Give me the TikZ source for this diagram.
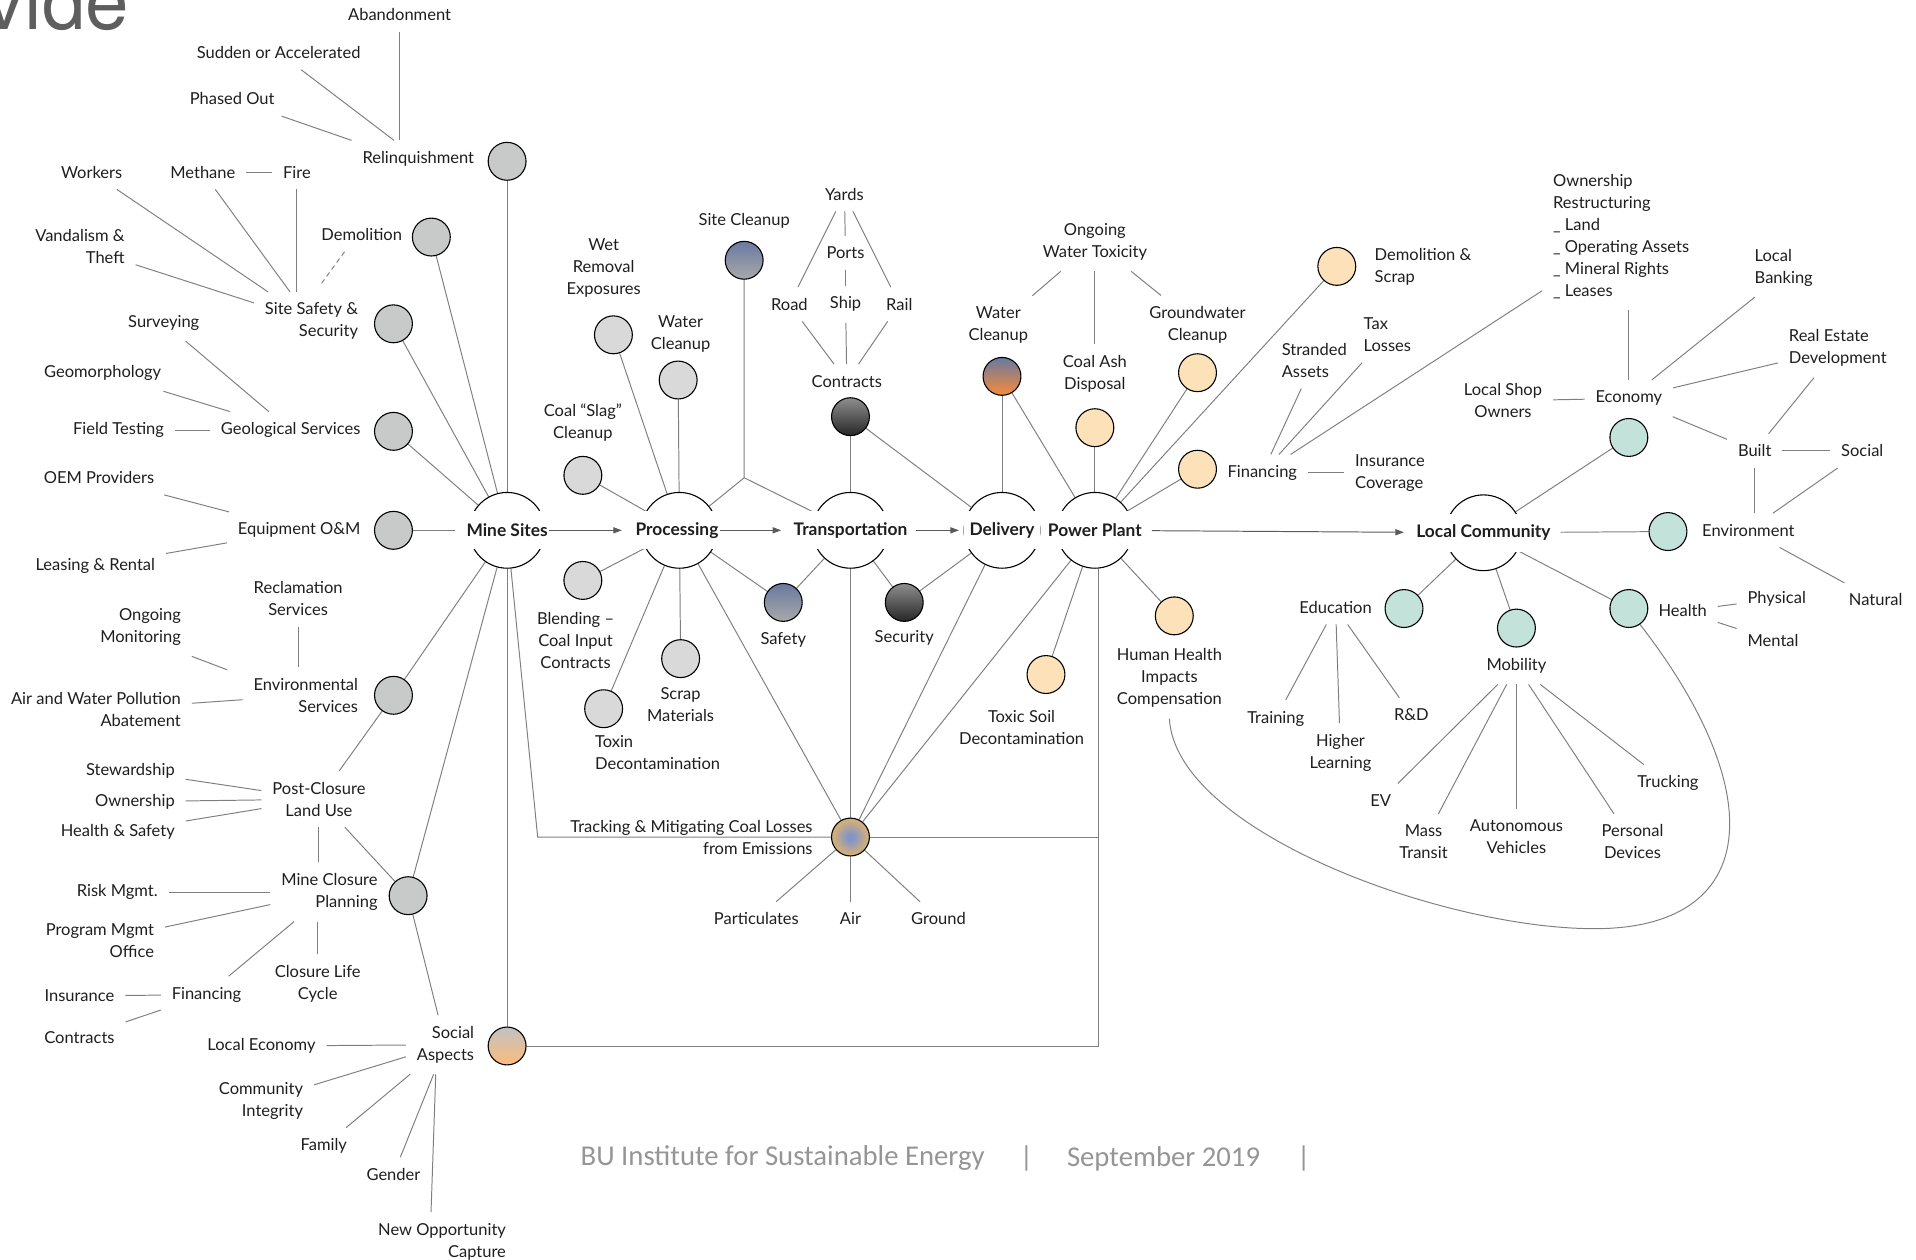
\documentclass[tikz,border=0pt]{standalone}
\usepackage{fontspec}
\setmainfont{Lato}
\newfontfamily\footfont{Carlito}
\newfontfamily\titlefont{TeX Gyre Heros}
\usetikzlibrary{shapes.geometric,arrows.meta}
\pgfdeclarelayer{background}
\pgfsetlayers{background,main}

\definecolor{linkgray}{HTML}{7F7F7F}
\definecolor{flowgray}{HTML}{5A5A5A}
\definecolor{labelblack}{HTML}{1E1E1E}
\definecolor{minefill}{HTML}{C8C9C9}
\definecolor{procfill}{HTML}{D9D9D9}
\definecolor{plantfill}{HTML}{FDE1B8}
\definecolor{commfill}{HTML}{C3E2DA}
\definecolor{siteblue}{HTML}{6979A0}
\definecolor{ashgray}{HTML}{A9A9A9}
\definecolor{coaltop}{HTML}{8E8E8E}
\definecolor{coalbottom}{HTML}{262626}
\definecolor{flameorange}{HTML}{F78B3A}
\definecolor{socialtop}{HTML}{C2C2C2}
\definecolor{socialbottom}{HTML}{FBBB7C}
\definecolor{tracktan}{HTML}{D0AE7C}
\definecolor{trackblue}{HTML}{8494C6}
\definecolor{footgray}{HTML}{959595}
\definecolor{titlegray}{HTML}{5E5E5E}

\pgfdeclareradialshading{trackspot}{\pgfpoint{0bp}{0bp}}{%
  color(0bp)=(trackblue); color(4bp)=(trackblue);
  color(22bp)=(tracktan); color(50bp)=(tracktan)}

\begin{document}
\begin{tikzpicture}[x=1pt, y=-1pt,
    every node/.style={text=labelblack, font=\fontsize{13.5}{18}\selectfont},
    lbl/.style={inner sep=1pt, outer sep=8pt, align=center},
    lblr/.style={lbl, align=right, anchor=east, xshift=9pt},
    lbll/.style={lbl, align=left, anchor=west, xshift=-9pt},
    stage/.style={circle, draw=black, line width=0.9pt, minimum size=62pt, inner sep=0pt},
    stagename/.style={fill=white, font=\fontsize{14.2}{18}\selectfont\bfseries,
        minimum width=62pt, minimum height=31pt, inner xsep=1pt, inner ysep=0pt},
    bubble/.style={circle, draw=black, line width=0.9pt, minimum size=31pt, inner sep=0pt},
    minedot/.style={bubble, fill=minefill},
    procdot/.style={bubble, fill=procfill},
    plantdot/.style={bubble, fill=plantfill},
    commdot/.style={bubble, fill=commfill},
    link/.style={draw=linkgray, line width=0.8pt},
    flow/.style={draw=flowgray, line width=0.8pt, -{Triangle[length=7pt,width=5pt]}}]
\useasboundingbox (0,0) rectangle (1568,1031);
\clip (0,0) rectangle (1568,1031);

% title fragment and footer
\node[anchor=base east, inner sep=0pt, text=titlegray,
    font=\titlefont\fontsize{64}{64}\selectfont] (title) at (106,24.5) {vide};
\node[anchor=west, inner sep=0pt, text=footgray,
    font=\footfont\fontsize{23.5}{28}\selectfont] (footorg) at (475,948) {BU Institute for Sustainable Energy};
\node[inner sep=0pt, text=footgray, font=\footfont\fontsize{23.5}{28}\selectfont] (footbara) at (840,948) {|};
\node[anchor=west, inner sep=0pt, text=footgray,
    font=\footfont\fontsize{23.5}{28}\selectfont] (footdate) at (873,948) {September 2019};
\node[inner sep=0pt, text=footgray, font=\footfont\fontsize{23.5}{28}\selectfont] (footbarb) at (1067,948) {|};

% value chain stages
\node[stage] (mine) at (415,434) {};
\node[stage] (proc) at (556,434) {};
\node[stage] (trans) at (696,434) {};
\node[stage] (deliv) at (820,434) {};
\node[stage] (plant) at (896,434) {};
\node[stage] (comm) at (1214,436) {};

% mine sites
\node[minedot] (relq) at (415,132) {};
\node[minedot] (demo) at (353,194) {};
\node[minedot] (safe) at (322,265) {};
\node[minedot] (geo) at (322,353) {};
\node[minedot] (equip) at (322,434) {};
\node[minedot] (env) at (322,569) {};
\node[minedot] (closure) at (334,733) {};
\node[bubble, top color=socialtop, bottom color=socialbottom] (social) at (415,856) {};

% processing
\node[procdot] (slag) at (477,389) {};
\node[procdot] (wet) at (502,274) {};
\node[procdot] (pwater) at (555,311) {};
\node[bubble, top color=siteblue, bottom color=ashgray] (sitecl) at (609,213) {};
\node[procdot] (blend) at (477,475) {};
\node[procdot] (toxin) at (494,580) {};
\node[procdot] (scrap) at (557,539) {};
\node[bubble, top color=siteblue, bottom color=ashgray] (safety) at (641,493) {};

% transportation and delivery
\node[bubble, top color=coaltop, bottom color=coalbottom] (contr) at (696,341) {};
\node[bubble, top color=coaltop, bottom color=coalbottom] (secur) at (740,493) {};
\node[bubble, top color=siteblue, bottom color=flameorange] (dwater) at (820,308) {};
\node[bubble, shading=trackspot] (track) at (696,685) {};

% power plant
\node[plantdot] (ash) at (896,350) {};
\node[plantdot] (ground) at (980,305) {};
\node[plantdot] (demscrap) at (1094,218) {};
\node[plantdot] (pfin) at (980,384) {};
\node[plantdot] (soil) at (856,552) {};
\node[plantdot] (human) at (961,504) {};

% local community
\node[commdot] (econ) at (1333,358) {};
\node[commdot] (environ) at (1365,435) {};
\node[commdot] (edu) at (1149,498) {};
\node[commdot] (mobil) at (1241,514) {};
\node[commdot] (health) at (1333,498) {};

% mine sites labels
\node[lbl] (abandon) at (327,12) {Abandonment};
\node[lbl] (sudden) at (228,43) {Sudden or Accelerated};
\node[lbl] (phased) at (190,81) {Phased Out};
\node[lblr] (relqt) at (388,130) {Relinquishment};
\node[lbl] (workers) at (75,141) {Workers};
\node[lbl] (methane) at (166,141) {Methane};
\node[lbl] (fire) at (243,141) {Fire};
\node[lblr] (vandal) at (102,202) {Vandalism \&\\Theft};
\node[lblr] (demot) at (329,192) {Demolition};
\node[lblr] (sitesec) at (293,263) {Site Safety \&\\Security};
\node[lbl] (survey) at (134,264) {Surveying};
\node[lbl] (geomorph) at (84,305) {Geomorphology};
\node[lbl] (fieldtest) at (97,352) {Field Testing};
\node[lblr] (geot) at (295,352) {Geological Services};
\node[lbl] (oem) at (81,391) {OEM Providers};
\node[lblr] (equipt) at (295,434) {Equipment O\&M};
\node[lbl] (leasing) at (78,463) {Leasing \& Rental};
\node[lbl] (reclaim) at (244,490) {Reclamation\\Services};
\node[lblr] (monitor) at (148,513) {Ongoing\\Monitoring};
\node[lblr] (envt) at (293,569) {Environmental\\Services};
\node[lblr] (abate) at (148,581) {Air and Water Pollution\\Abatement};
\node[lblr] (steward) at (143,631) {Stewardship};
\node[lblr] (ownship) at (143,656) {Ownership};
\node[lblr] (hsafety) at (143,681) {Health \& Safety};
\node[lbl] (postuse) at (261,654) {Post-Closure\\Land Use};
\node[lblr] (closuret) at (309,730) {Mine Closure\\Planning};
\node[lblr] (riskm) at (129,730) {Risk Mgmt.};
\node[lblr] (pmo) at (126,770) {Program Mgmt\\Office};
\node[lbl] (lifecyc) at (260,805) {Closure Life\\Cycle};
\node[lbl] (mfin) at (169,814) {Financing};
\node[lbl] (minsur) at (65,815) {Insurance};
\node[lbl] (mcontr) at (65,849) {Contracts};
\node[lblr] (socialt) at (388,855) {Social\\Aspects};
\node[lbl] (loceco) at (214,856) {Local Economy};
\node[lblr] (integ) at (248,901) {Community\\Integrity};
\node[lbl] (family) at (265,938) {Family};
\node[lbl] (gender) at (322,961) {Gender};
\node[lblr] (newopp) at (414,1016) {New Opportunity\\Capture};

% processing labels
\node[lbl] (slagt) at (477,346) {Coal “Slag”\\Cleanup};
\node[lbl] (wett) at (494,219) {Wet\\Removal\\Exposures};
\node[lbl] (pwatert) at (557,273) {Water\\Cleanup};
\node[lbl] (sitect) at (609,181) {Site Cleanup};
\node[lbl] (blendt) at (471,524) {Blending --\\Coal Input\\Contracts};
\node[lbll] (toxint) at (487,616) {Toxin\\Decontamination};
\node[lbl] (scrapt) at (557,577) {Scrap\\Materials};
\node[lbl] (safetyt) at (641,524) {Safety};

% transportation labels
\node[lbl] (yards) at (691,159) {Yards};
\node[lbl] (ports) at (692,207) {Ports};
\node[lbl] (road) at (646,249) {Road};
\node[lbl] (ship) at (692,249) {Ship};
\node[lbl] (rail) at (736,249) {Rail};
\node[lbl] (contrt) at (693,312) {Contracts};
\node[lbl] (secut) at (740,522) {Security};
\node[lblr] (trackt) at (665,685) {Tracking \& Mitigating Coal Losses\\from Emissions};
\node[lbl] (partic) at (619,752) {Particulates};
\node[lbl] (air) at (696,752) {Air};
\node[lbl] (groundl) at (768,752) {Ground};

% delivery and power plant labels
\node[lbl] (dwatert) at (817,266) {Water\\Cleanup};
\node[lbl] (toxicity) at (896,198) {Ongoing\\Water Toxicity};
\node[lbl] (asht) at (896,306) {Coal Ash\\Disposal};
\node[lbl] (groundt) at (980,266) {Groundwater\\Cleanup};
\node[lbll] (demscrapt) at (1125,218) {Demolition \&\\Scrap};
\node[lbl] (pfint) at (1033,387) {Financing};
\node[lbll] (stranded) at (1049,295) {Stranded\\Assets};
\node[lbll] (taxloss) at (1116,274) {Tax\\Losses};
\node[lbll] (coverage) at (1109,387) {Insurance\\Coverage};
\node[lbll] (restruct) at (1271,194) {Ownership\\Restructuring\\\_ Land\\\_ Operating Assets\\\_ Mineral Rights\\\_ Leases};
\node[lbl] (soilt) at (836,595) {Toxic Soil\\Decontamination};
\node[lbl] (humant) at (957,555) {Human Health\\Impacts\\Compensation};

% local community labels
\node[lbl] (econt) at (1333,326) {Economy};
\node[lbl] (shop) at (1230,328) {Local Shop\\Owners};
\node[lbll] (banking) at (1436,219) {Local\\Banking};
\node[lbll] (realest) at (1464,285) {Real Estate\\Development};
\node[lbl] (built) at (1436,369) {Built};
\node[lbl] (socialc) at (1524,369) {Social};
\node[lbll] (environt) at (1393,434) {Environment};
\node[lbl] (natural) at (1535,491) {Natural};
\node[lbl] (edut) at (1093,497) {Education};
\node[lbl] (training) at (1044,588) {Training};
\node[lbl] (higher) at (1097,616) {Higher\\Learning};
\node[lbl] (rnd) at (1155,585) {R\&D};
\node[lbl] (mobilt) at (1241,545) {Mobility};
\node[lbl] (ev) at (1130,655) {EV};
\node[lbl] (transit) at (1165,689) {Mass\\Transit};
\node[lbl] (autov) at (1241,685) {Autonomous\\Vehicles};
\node[lbl] (devices) at (1336,689) {Personal\\Devices};
\node[lbl] (trucking) at (1365,641) {Trucking};
\node[lbl] (healtht) at (1377,500) {Health};
\node[lbl] (physical) at (1454,490) {Physical};
\node[lbl] (mental) at (1451,524) {Mental};

% stage names (white band cuts the circles)
\node[stagename] (minet) at (415,434) {Mine Sites};
\node[stagename] (proct) at (554,434) {Processing};
\node[stagename] (transt) at (696,434) {Transportation};
\node[stagename] (delivt) at (820,434) {Delivery};
\node[stagename] (plantt) at (896,434) {Power Plant};
\node[stagename] (commt) at (1214,436) {Local Community};

\begin{pgfonlayer}{background}
% main flow
\draw[flow, shorten >=10pt] (minet) -- (proct);
\draw[flow, shorten >=9pt] (proct) -- (transt);
\draw[flow, shorten <=6pt, shorten >=4pt] (transt) -- (delivt);
\draw[flow, shorten <=7pt, shorten >=9pt] (plantt) -- (commt);

% mine sites
\draw[link] (abandon.south) -- (abandon.south |- relqt.north);
\draw[link] (sudden) -- (relqt);
\draw[link] (phased) -- (relqt.north west);
\draw[link] (workers) -- (sitesec);
\draw[link] (methane) -- (sitesec);
\draw[link] (methane) -- (fire);
\draw[link] (fire.south) -- (fire.south |- sitesec.north);
\draw[link] (vandal) -- (sitesec);
\draw[link, dash pattern=on 4pt off 3pt] ([xshift=-14pt]demot.south) -- ++(-19,26);
\draw[link] (survey) -- (geot);
\draw[link] (geomorph) -- (geot);
\draw[link] (fieldtest) -- (geot);
\draw[link] (oem) -- (equipt);
\draw[link] (leasing) -- (equipt);
\draw[link] (reclaim.south) -- (reclaim.south |- envt.north);
\draw[link] (monitor.south east) -- ++(29,11);
\draw[link] (abate) -- (envt);
\draw[link] (steward) -- (postuse);
\draw[link] (ownship) -- (postuse);
\draw[link] (hsafety) -- (postuse);
\draw[link] (env) -- (postuse);
\draw[link] (postuse) -- (closure);
\draw[link] (postuse.south) -- (postuse.south |- closuret.north);
\draw[link] (riskm) -- (closuret);
\draw[link] (pmo) -- (closuret);
\draw[link] (lifecyc.north) -- (lifecyc.north |- closuret.south);
\draw[link] (closuret) -- (mfin);
\draw[link] (minsur) -- (mfin);
\draw[link] (mcontr) -- (mfin);
\draw[link] (closure) -- (socialt);
\draw[link] (loceco) -- (socialt);
\draw[link] (integ) -- (socialt);
\draw[link] (family) -- (socialt);
\draw[link] (gender) -- (socialt);
\draw[link] ([xshift=-9pt]newopp.north) -- ([xshift=-8pt]socialt.south);
\draw[link] (relq) -- (mine);
\draw[link] (demo) -- (mine);
\draw[link] (safe) -- (mine);
\draw[link] (geo) -- (mine);
\draw[link, shorten >=8pt] (equip) -- (minet.west);
\draw[link] (env) -- (mine);
\draw[link] (closure) -- (mine);
\draw[link] (mine) -- (social);
\coordinate (pcorner) at (899,856);
\draw[link] (social) -- (pcorner) -- (plant.south -| pcorner);
\coordinate (tcorner) at (440,685);
\draw[link] (mine) -- (tcorner) -- (track);
\draw[link] (track) -- (track -| pcorner);

% processing
\draw[link] (slag) -- (proc);
\draw[link] (wet) -- (proc);
\draw[link] (pwater) -- (proc);
\coordinate (scjoin) at (609,391);
\draw[link] (sitecl) -- (scjoin) -- (proc);
\draw[link] (scjoin) -- (trans);
\draw[link] (blend) -- (proc);
\draw[link] (toxin) -- (proc);
\draw[link] (scrap) -- (proc);
\draw[link] (safety) -- (proc);
\draw[link] (safety) -- (trans);
\draw[link] (proc) -- (track);

% transportation
\draw[link] (yards) -- (road);
\draw[link] (yards) -- (ports);
\draw[link] (yards) -- (rail);
\draw[link] (ports) -- (ship);
\draw[link] (road) -- (contrt);
\draw[link] (ship) -- (contrt);
\draw[link] (rail) -- (contrt);
\draw[link] (contr) -- (trans);
\draw[link] (contr) -- (deliv);
\draw[link] (secur) -- (trans);
\draw[link] (secur) -- (deliv);
\draw[link] (trans) -- (track);
\draw[link] (track) -- (partic);
\draw[link] (track) -- (air);
\draw[link] (track) -- (groundl);

% delivery and power plant
\draw[link] (dwater) -- (deliv);
\draw[link] (dwater) -- (plant);
\draw[link] (toxicity) -- (dwatert);
\draw[link] (toxicity) -- (asht);
\draw[link] (toxicity) -- (groundt);
\draw[link] (deliv) -- (track);
\draw[link] (ash) -- (plant);
\draw[link] (ground) -- (plant);
\draw[link] (demscrap) -- (plant);
\draw[link] (pfin) -- (plant);
\draw[link] (stranded) -- (pfint);
\draw[link] (taxloss) -- (pfint);
\draw[link] ([yshift=16pt]restruct.south west) -- (pfint);
\draw[link] (pfint) -- (coverage);
\draw[link] (soil) -- (plant);
\draw[link] (human) -- (plant);
\draw[link] (plant) -- (track);
\draw[link] (humant.south) .. controls (962,680) and (1180,760) .. (1305,760)
    .. controls (1440,760) and (1450,650) .. (health.-55);

% local community
\draw[link] (econ) -- (comm);
\draw[link] (shop) -- (econt);
\draw[link] (econt.north) -- (econt.north |- restruct.south);
\draw[link] ([xshift=9pt]banking.south west) -- (econt);
\draw[link] ([yshift=-12pt]realest.west) -- (econt);
\draw[link] (econt) -- (built);
\draw[link] (realest) -- (built);
\draw[link] (built) -- (socialc);
\draw[link] (built.south) -- (built.south |- environt.north);
\draw[link] (socialc) -- (environt);
\draw[link, shorten <=7pt] (commt) -- (environ);
\draw[link] (environt) -- (natural);
\draw[link] (edu) -- (comm);
\draw[link] (edut) -- (training);
\draw[link] (edut) -- (higher);
\draw[link] (edut) -- (rnd);
\draw[link] (mobil) -- (comm);
\draw[link] (mobilt) -- (ev);
\draw[link] (mobilt) -- (transit);
\draw[link] (mobilt) -- (autov);
\draw[link] (mobilt) -- (devices);
\draw[link] (mobilt) -- (trucking);
\draw[link] (health) -- (comm);
\draw[link] (healtht) -- (physical);
\draw[link] (healtht) -- (mental);
\end{pgfonlayer}
\end{tikzpicture}
\end{document}
